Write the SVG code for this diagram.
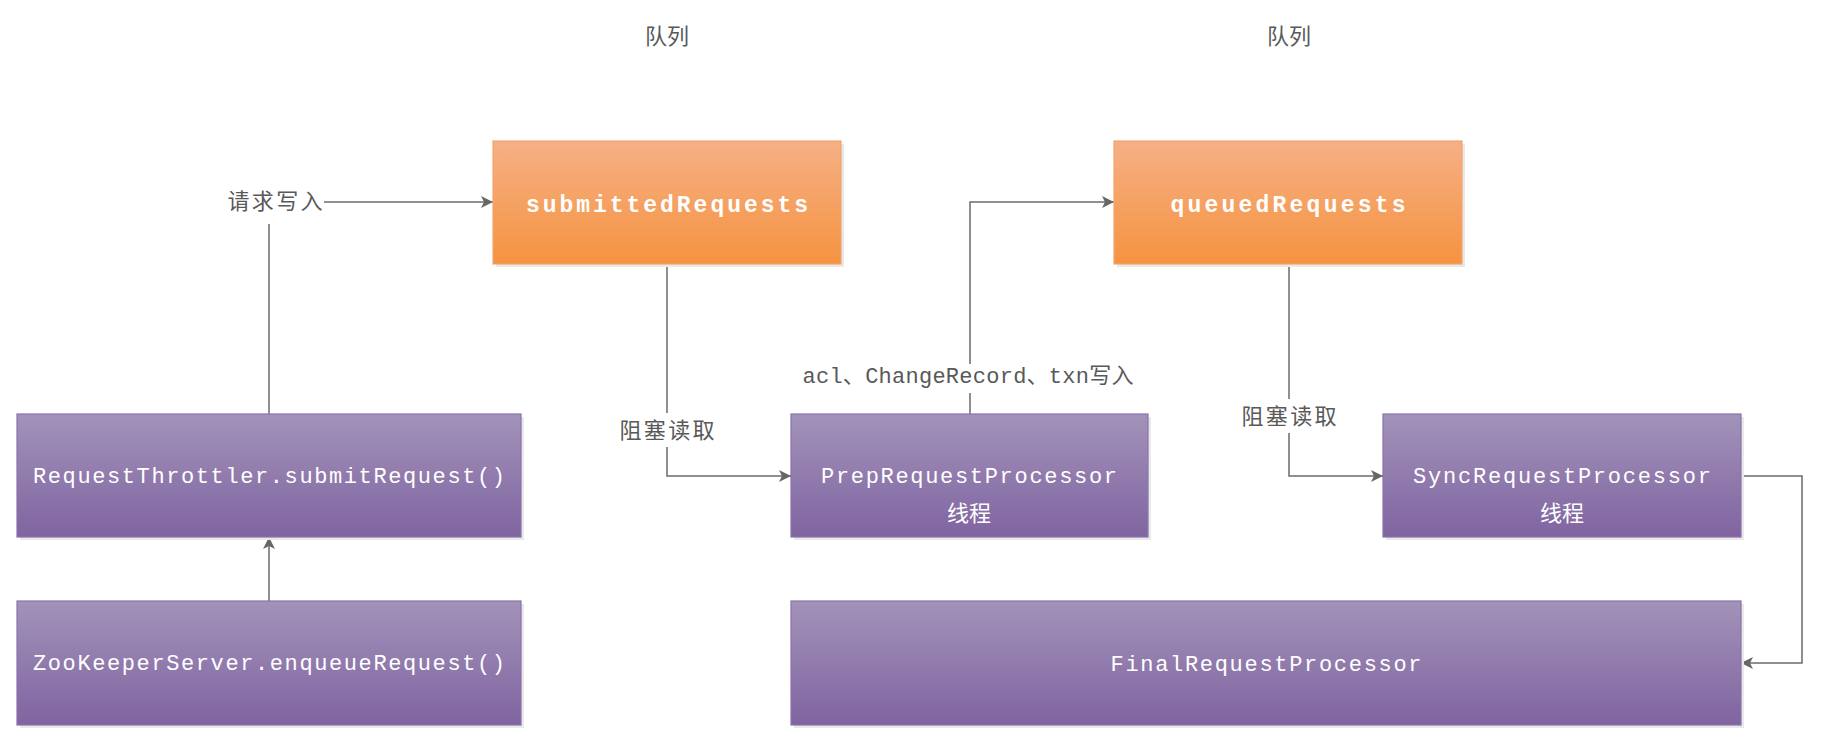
<svg xmlns="http://www.w3.org/2000/svg" width="1824" height="744" viewBox="0 0 1824 744">
<defs>
<linearGradient id="gOrange" x1="0" y1="0" x2="0" y2="1">
<stop offset="0" stop-color="#F6B086"/>
<stop offset="1" stop-color="#F59340"/>
</linearGradient>
<linearGradient id="gPurple" x1="0" y1="0" x2="0" y2="1">
<stop offset="0" stop-color="#A293B9"/>
<stop offset="1" stop-color="#8064A1"/>
</linearGradient>
<marker id="arrow" markerUnits="userSpaceOnUse" markerWidth="13" markerHeight="12" refX="12" refY="6" orient="auto">
<path d="M0,0 L12,6 L0,12 L3,6 Z" fill="#666666"/>
</marker>
<style>
.shadow{fill:#E9E9E9;}
.orange{fill:url(#gOrange);stroke:#F3A46E;stroke-width:1.2;}
.purple{fill:url(#gPurple);stroke:#8A72AC;stroke-width:1.2;}
.box-text{font-family:"Liberation Mono","Noto Sans CJK SC",monospace;font-size:22px;fill:#FFFFFF;text-anchor:middle;}
.bold{font-weight:bold;font-size:23px;}
.cjk{font-family:"Noto Sans CJK SC","Liberation Mono",sans-serif;}
.label{font-family:"Liberation Mono","Noto Sans CJK SC",monospace;font-size:22px;fill:#595959;text-anchor:middle;}
.conn{fill:none;stroke:#6B6B6B;stroke-width:1.5;}
</style>
</defs>
<rect width="1824" height="744" fill="#FFFFFF"/>

<g id="label-queue-1"><text class="label cjk" x="667" y="44">队列</text></g>
<g id="label-queue-2"><text class="label cjk" x="1289" y="44">队列</text></g>

<g id="connectors">
<path class="conn" d="M269,414 V224"/>
<path class="conn" d="M324,202 H493" marker-end="url(#arrow)"/>
<path class="conn" d="M269,601 V537" marker-end="url(#arrow)"/>
<path class="conn" d="M667,264 V413"/>
<path class="conn" d="M667,447 V476 H791" marker-end="url(#arrow)"/>
<path class="conn" d="M970,414 V393"/>
<path class="conn" d="M970,364 V202 H1114" marker-end="url(#arrow)"/>
<path class="conn" d="M1289,264 V399"/>
<path class="conn" d="M1289,433 V476 H1383" marker-end="url(#arrow)"/>
<path class="conn" d="M1741,476 H1802 V663 H1741" marker-end="url(#arrow)"/>
<text class="label cjk" x="275" y="209" textLength="95" lengthAdjust="spacing">请求写入</text>
<text class="label cjk" x="667" y="438" textLength="95" lengthAdjust="spacing">阻塞读取</text>
<text class="label cjk" x="1289" y="424" textLength="95" lengthAdjust="spacing">阻塞读取</text>
<text class="label" x="968" y="383" textLength="331" lengthAdjust="spacing">acl、ChangeRecord、txn写入</text>
</g>

<g id="submittedRequests">
<rect class="shadow" x="496" y="144" width="348" height="123"/>
<rect class="orange" x="493" y="141" width="348" height="123"/>
<text class="box-text bold" x="667" y="212" textLength="282" lengthAdjust="spacing">submittedRequests</text>
</g>

<g id="queuedRequests">
<rect class="shadow" x="1117" y="144" width="348" height="123"/>
<rect class="orange" x="1114" y="141" width="348" height="123"/>
<text class="box-text bold" x="1288" y="212" textLength="235" lengthAdjust="spacing">queuedRequests</text>
</g>

<g id="RequestThrottler">
<rect class="shadow" x="20" y="417" width="504" height="123"/>
<rect class="purple" x="17" y="414" width="504" height="123"/>
<text class="box-text" x="269" y="483" textLength="472" lengthAdjust="spacing">RequestThrottler.submitRequest()</text>
</g>

<g id="ZooKeeperServer">
<rect class="shadow" x="20" y="604" width="504" height="124"/>
<rect class="purple" x="17" y="601" width="504" height="124"/>
<text class="box-text" x="269" y="670" textLength="472" lengthAdjust="spacing">ZooKeeperServer.enqueueRequest()</text>
</g>

<g id="PrepRequestProcessor">
<rect class="shadow" x="794" y="417" width="357" height="123"/>
<rect class="purple" x="791" y="414" width="357" height="123"/>
<text class="box-text" x="969" y="483" textLength="296" lengthAdjust="spacing">PrepRequestProcessor</text>
<text class="box-text cjk" x="969" y="521">线程</text>
</g>

<g id="SyncRequestProcessor">
<rect class="shadow" x="1386" y="417" width="358" height="123"/>
<rect class="purple" x="1383" y="414" width="358" height="123"/>
<text class="box-text" x="1562" y="483" textLength="298" lengthAdjust="spacing">SyncRequestProcessor</text>
<text class="box-text cjk" x="1562" y="521">线程</text>
</g>

<g id="FinalRequestProcessor">
<rect class="shadow" x="794" y="604" width="950" height="124"/>
<rect class="purple" x="791" y="601" width="950" height="124"/>
<text class="box-text" x="1266" y="671" textLength="311" lengthAdjust="spacing">FinalRequestProcessor</text>
</g>
</svg>
